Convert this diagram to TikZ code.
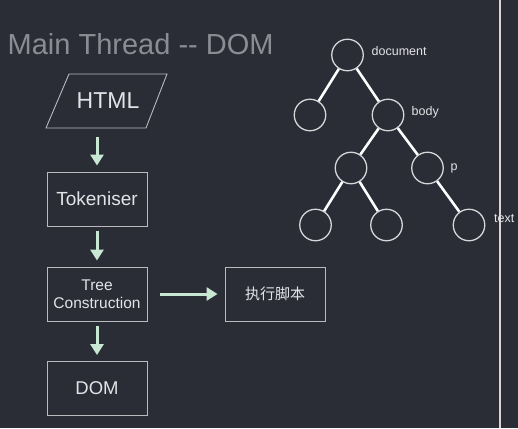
\documentclass[tikz,border=0pt]{standalone}
\usepackage{fontspec}
\setmainfont{Liberation Sans}
\newfontfamily\cjkfont{Noto Sans CJK SC}
\usetikzlibrary{arrows.meta}
\definecolor{bgc}{RGB}{42,44,54}
\definecolor{titlec}{RGB}{138,141,148}
\definecolor{boxc}{RGB}{185,185,190}
\definecolor{txtc}{RGB}{228,228,232}
\definecolor{mint}{RGB}{200,232,212}
\definecolor{circc}{RGB}{215,215,218}
\definecolor{sepc}{RGB}{220,210,210}
\tikzset{
  stepbox/.style={draw=boxc, line width=0.9pt, minimum width=100pt, minimum height=54pt, inner sep=0pt, text=txtc, align=center},
  flowarrow/.style={draw=mint, line width=3pt, -{Triangle[width=13pt,length=11pt]}},
  treenode/.style={circle, draw=circc, line width=1.3pt, minimum size=31.5pt, inner sep=0pt},
  treeedge/.style={draw=white, line width=2.6pt},
  treelabel/.style={text=txtc, font=\fontsize{12.5}{14}\selectfont, anchor=west, inner sep=0pt}
}
\begin{document}
\begin{tikzpicture}[x=1pt, y=-1pt]
\fill[bgc] (0,0) rectangle (518,428);
\useasboundingbox (0,0) rectangle (518,428);
% separator
\draw[sepc, line width=2pt] (500,0) -- (500,428);
% title
\node[anchor=base west, inner sep=0pt, text=titlec, font=\fontsize{29}{32}\selectfont] (title) at (7.5,55) {Main Thread -{}- DOM};
% HTML parallelogram
\node[inner sep=0pt, minimum width=100pt, minimum height=54pt, text=txtc, font=\fontsize{23}{26}\selectfont] (html) at (108,101) {HTML};
\draw[boxc, line width=0.9pt] (69,74) -- (167,74) -- (146,128) -- (46,128) -- cycle;
% boxes
\node[stepbox, font=\fontsize{19}{22}\selectfont] (tok) at (97,199) {Tokeniser};
\node[stepbox, font=\fontsize{15.5}{17.7}\selectfont] (tree) at (97,294) {Tree\\Construction};
\node[stepbox, minimum width=100pt, font=\cjkfont\fontsize{15}{18}\selectfont] (exec) at (275,294) {执行脚本};
\node[stepbox, font=\fontsize{18.5}{22}\selectfont] (dom) at (97,388.5) {DOM};
% arrows
\draw[flowarrow, shorten <=9pt, shorten >=6pt] (97,128) -- (tok.north);
\draw[flowarrow, shorten <=5pt, shorten >=6pt] (tok.south) -- (tree.north);
\draw[flowarrow, shorten <=5pt, shorten >=6pt] (tree.south) -- (dom.north);
\draw[flowarrow, shorten <=13pt, shorten >=7pt] (tree.east |- tree.center) -- (exec.west);
% tree
\node[treenode] (doc) at (347.5,55) {};
\node[treenode] (l1) at (310,115) {};
\node[treenode] (body) at (388,115) {};
\node[treenode] (bl) at (351,168) {};
\node[treenode] (p) at (427.5,168) {};
\node[treenode] (ll) at (315.5,225) {};
\node[treenode] (lm) at (386.5,225) {};
\node[treenode] (lt) at (469,225) {};
\draw[treeedge] (doc) -- (l1);
\draw[treeedge] (doc) -- (body);
\draw[treeedge] (body) -- (bl);
\draw[treeedge] (body) -- (p);
\draw[treeedge] (bl) -- (ll);
\draw[treeedge] (bl) -- (lm);
\draw[treeedge] (p) -- (lt);
\node[treelabel] (ldoc) at (371.5,51) {document};
\node[treelabel] (lbody) at (411.5,112) {body};
\node[treelabel] (lp) at (450.5,168) {p};
\node[treelabel] (ltext) at (494,218.5) {text};
\end{tikzpicture}
\end{document}
